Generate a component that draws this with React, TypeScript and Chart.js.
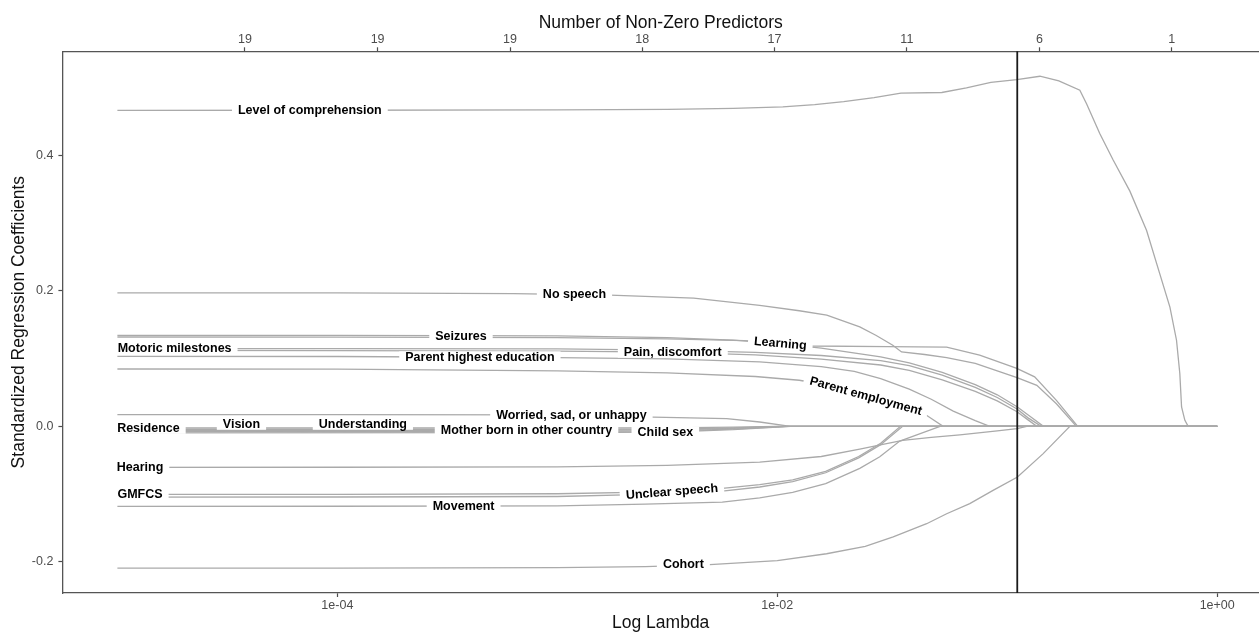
import React, { useEffect, useRef } from 'react';
import { Chart, registerables } from 'chart.js';

Chart.register(...registerables);

const FONT = '"Liberation Sans", Arial, Helvetica, sans-serif';

// axis ranges (x in log10(lambda))
const xMin = -5.25;
const xMax = 0.19;
const yMin = -0.2459;
const yMax = 0.5533;
const lambdaMinLog = -0.909;

const bottomTickLogs = [-4, -2, 0];
const bottomTickLabels = ['1e-04', '1e-02', '1e+00'];
const topTickLogs = [-4.42, -3.817, -3.215, -2.614, -2.013, -1.411, -0.808, -0.207];
const topTickCounts = ['19', '19', '19', '18', '17', '11', '6', '1'];
const yTickValues = [-0.2, 0, 0.2, 0.4];

// coefficient paths: [log10(lambda), standardized coefficient]
const levelOfComprehension = [[-5, 0.466], [-4, 0.4663], [-3, 0.4668], [-2.5, 0.4676], [-2.2, 0.469], [-1.975, 0.4712], [-1.83, 0.4745], [-1.698, 0.479], [-1.56, 0.485], [-1.438, 0.4915], [-1.252, 0.4925], [-1.14, 0.4995], [-1.029, 0.5075], [-0.911, 0.5115], [-0.806, 0.5165], [-0.72, 0.5095], [-0.6245, 0.496], [-0.594, 0.476], [-0.534, 0.432], [-0.473, 0.393], [-0.397, 0.347], [-0.321, 0.289], [-0.261, 0.225], [-0.215, 0.176], [-0.185, 0.127], [-0.17, 0.078], [-0.162, 0.0285], [-0.147, 0.0089], [-0.132, 0], [0, 0]];
const noSpeech = [[-5, 0.197], [-4, 0.1968], [-3.2, 0.1958], [-2.76, 0.1935], [-2.38, 0.189], [-2.08, 0.1786], [-1.9, 0.1705], [-1.775, 0.164], [-1.625, 0.1466], [-1.55, 0.134], [-1.475, 0.1196], [-1.435, 0.1097], [-1.33, 0.106], [-1.23, 0.1015], [-1.1, 0.093], [-0.91, 0.0718], [-0.82, 0.0605], [-0.73, 0.033], [-0.64, 0], [0, 0]];
const learning = [[-5, 0.1318], [-4, 0.1316], [-3, 0.1308], [-2.5, 0.129], [-2.15, 0.1265], [-1.84, 0.1185], [-1.5, 0.1177], [-1.23, 0.117], [-1.08, 0.105], [-0.911, 0.0856], [-0.83, 0.073], [-0.73, 0.038], [-0.634, 0], [0, 0]];
const seizures = [[-5, 0.1343], [-4, 0.1342], [-3, 0.1335], [-2.5, 0.131], [-2.2, 0.1272], [-2.0, 0.1225], [-1.8, 0.1155], [-1.53, 0.1025], [-1.4, 0.0935], [-1.25, 0.0795], [-1.1, 0.0615], [-1.0, 0.0465], [-0.91, 0.029], [-0.85, 0.0145], [-0.79, 0], [0, 0]];
const motoricMilestones = [[-5, 0.1147], [-4, 0.1146], [-3, 0.1142], [-2.5, 0.1125], [-2.1, 0.109], [-1.8, 0.1045], [-1.53, 0.097], [-1.4, 0.0895], [-1.25, 0.0755], [-1.1, 0.0575], [-1.0, 0.0425], [-0.91, 0.0255], [-0.86, 0.0125], [-0.8, 0], [0, 0]];
const painDiscomfort = [[-5, 0.112], [-4, 0.1118], [-3, 0.111], [-2.5, 0.1095], [-2.1, 0.1055], [-1.8, 0.099], [-1.53, 0.0905], [-1.4, 0.0825], [-1.25, 0.0685], [-1.1, 0.0515], [-1.0, 0.0375], [-0.91, 0.0215], [-0.86, 0.0095], [-0.82, 0], [0, 0]];
const parentHighestEducation = [[-5, 0.1033], [-4, 0.103], [-3, 0.1015], [-2.5, 0.0995], [-2.08, 0.095], [-1.8, 0.088], [-1.65, 0.081], [-1.53, 0.0705], [-1.4, 0.055], [-1.3, 0.04], [-1.2, 0.0225], [-1.1, 0.0085], [-1.034, 0], [0, 0]];
const parentEmployment = [[-5, 0.0846], [-4, 0.0843], [-3, 0.0818], [-2.5, 0.079], [-2.1, 0.0735], [-1.9, 0.068], [-1.75, 0.0595], [-1.6, 0.046], [-1.45, 0.031], [-1.32, 0.016], [-1.246, 0], [0, 0]];
const worriedSadUnhappy = [[-5, 0.0172], [-4, 0.0172], [-3, 0.0168], [-2.565, 0.0137], [-2.23, 0.0113], [-2.08, 0.0064], [-1.94, 0], [0, 0]];
const residence = [[-5, -0.0025], [-3, -0.0025], [-2.5, -0.0022], [-2.2, -0.0012], [-2.0, 0], [0, 0]];
const vision = [[-5, -0.0045], [-3, -0.0044], [-2.5, -0.004], [-2.2, -0.0022], [-1.98, 0], [0, 0]];
const understanding = [[-5, -0.0062], [-3, -0.006], [-2.5, -0.0053], [-2.2, -0.0031], [-1.96, 0], [0, 0]];
const motherBornAbroad = [[-5, -0.0078], [-3, -0.0076], [-2.5, -0.0068], [-2.2, -0.004], [-1.95, 0], [0, 0]];
const childSex = [[-5, -0.0096], [-3, -0.0094], [-2.5, -0.0084], [-2.2, -0.005], [-1.94, 0], [0, 0]];
const hearing = [[-5, -0.0605], [-4, -0.0604], [-3, -0.0598], [-2.5, -0.0575], [-2.08, -0.0527], [-1.8, -0.0445], [-1.625, -0.0335], [-1.52, -0.0265], [-1.43, -0.0207], [-1.3, -0.0162], [-1.17, -0.0125], [-1.0, -0.0068], [-0.91, -0.0035], [-0.866, 0], [0, 0]];
const gmfcs = [[-5, -0.1005], [-4, -0.1003], [-3, -0.0995], [-2.6, -0.097], [-2.25, -0.0915], [-2.08, -0.086], [-1.93, -0.079], [-1.78, -0.0665], [-1.63, -0.0445], [-1.53, -0.025], [-1.44, 0], [0, 0]];
const unclearSpeech = [[-5, -0.1045], [-4, -0.1043], [-3, -0.1035], [-2.6, -0.1005], [-2.25, -0.0955], [-2.08, -0.0895], [-1.93, -0.0815], [-1.78, -0.0685], [-1.63, -0.0465], [-1.53, -0.027], [-1.43, 0], [0, 0]];
const movement = [[-5, -0.118], [-4, -0.1179], [-3, -0.1175], [-2.6, -0.1148], [-2.25, -0.1117], [-2.08, -0.1055], [-1.93, -0.0975], [-1.78, -0.0845], [-1.625, -0.062], [-1.534, -0.045], [-1.443, -0.0217], [-1.35, -0.0108], [-1.26, 0], [0, 0]];
const cohort = [[-5, -0.2093], [-4, -0.2092], [-3, -0.2085], [-2.6, -0.207], [-2.307, -0.204], [-2.0, -0.198], [-1.776, -0.188], [-1.6, -0.177], [-1.473, -0.163], [-1.321, -0.1437], [-1.23, -0.129], [-1.125, -0.114], [-1.019, -0.0945], [-0.908, -0.0748], [-0.791, -0.0403], [-0.67, 0], [0, 0]];

const seriesNames = ['Level of comprehension', 'No speech', 'Learning', 'Seizures', 'Motoric milestones', 'Pain, discomfort', 'Parent highest education', 'Parent employment', 'Worried, sad, or unhappy', 'Residence', 'Vision', 'Understanding', 'Mother born in other country', 'Child sex', 'Hearing', 'GMFCS', 'Unclear speech', 'Movement', 'Cohort'];
const seriesPaths = [levelOfComprehension, noSpeech, learning, seizures, motoricMilestones, painDiscomfort, parentHighestEducation, parentEmployment, worriedSadUnhappy, residence, vision, understanding, motherBornAbroad, childSex, hearing, gmfcs, unclearSpeech, movement, cohort];

// label anchors (data coordinates) and text angle in degrees
const labelLogLambda = [-4.125, -2.922, -1.986, -3.438, -4.74, -2.475, -3.352, -1.597, -2.936, -4.859, -4.436, -3.884, -3.14, -2.509, -4.897, -4.897, -2.479, -3.426, -2.427];
const labelCoef = [0.4664, 0.1945, 0.1225, 0.1338, 0.1148, 0.1095, 0.1025, 0.045, 0.0162, -0.003, 0.003, 0.003, -0.006, -0.0085, -0.0605, -0.1004, -0.0962, -0.118, -0.2035];
const labelAngle = [0, 0, 5, 0, 0, 0, 0, 15.5, 0, 0, 0, 0, 0, 0, 0, 0, -4.5, 0, 0];

const labelPlugin = {
  id: 'pathLabels',
  afterDatasetsDraw(chart: any) {
    const { ctx, scales } = chart;
    const xs = scales.x;
    const ys = scales.y;
    ctx.save();
    ctx.font = `bold 12.5px ${FONT}`;
    ctx.textAlign = 'center';
    ctx.textBaseline = 'middle';
    seriesNames.forEach((name, i) => {
      const px = xs.getPixelForValue(labelLogLambda[i]);
      const py = ys.getPixelForValue(labelCoef[i]);
      const w = ctx.measureText(name).width;
      ctx.save();
      ctx.translate(px, py);
      ctx.rotate((labelAngle[i] * Math.PI) / 180);
      ctx.fillStyle = '#ffffff';
      ctx.fillRect(-w / 2 - 6, -5.5, w + 12, 11);
      ctx.fillStyle = '#000000';
      ctx.fillText(name, 0, 0.5);
      ctx.restore();
    });
    ctx.restore();
  },
};

const vlinePlugin = {
  id: 'lambdaLine',
  afterDatasetsDraw(chart: any) {
    const { ctx, chartArea, scales } = chart;
    const x = scales.x.getPixelForValue(lambdaMinLog);
    ctx.save();
    ctx.strokeStyle = '#1a1a1a';
    ctx.lineWidth = 1.8;
    ctx.beginPath();
    ctx.moveTo(x, chartArea.top);
    ctx.lineTo(x, chartArea.bottom);
    ctx.stroke();
    ctx.restore();
  },
};

const tickFont = { family: FONT, size: 12.5 };
const titleFont = { family: FONT, size: 17.5, lineHeight: 1 };
const axisGrey = '#4d4d4d';

export default function App() {
  const canvasRef = useRef<HTMLCanvasElement | null>(null);

  useEffect(() => {
    const canvas = canvasRef.current;
    if (!canvas) return;
    const datasets = seriesPaths.map((path, i) => ({
      label: seriesNames[i],
      data: path.map(([x, y]) => ({ x, y })),
      borderColor: '#aaaaaa',
      borderWidth: 1.3,
      pointRadius: 0,
      tension: 0,
      fill: false,
      xAxisID: 'x',
      yAxisID: 'y',
    }));

    const chart = new Chart(canvas, {
      type: 'line',
      data: { datasets },
      options: {
        animation: false,
        responsive: false,
        events: [],
        layout: { padding: 0 },
        plugins: { legend: { display: false }, tooltip: { enabled: false } },
        scales: {
          x: {
            type: 'linear',
            position: 'bottom',
            min: xMin,
            max: xMax,
            afterBuildTicks: (s: any) => {
              s.ticks = bottomTickLogs.map((v) => ({ value: v }));
            },
            afterFit: (s: any) => {
              s.height = 39;
            },
            ticks: {
              autoSkip: false,
              maxRotation: 0,
              padding: 1,
              color: axisGrey,
              font: tickFont,
              callback: (_v: any, i: number) => bottomTickLabels[i],
            },
            grid: { drawOnChartArea: false, drawTicks: true, tickLength: 4, color: axisGrey, tickColor: axisGrey, tickWidth: 1.2 },
            border: { display: true, color: '#555555', width: 1.3 },
            title: { display: true, text: 'Log Lambda', color: '#111111', font: titleFont, padding: { top: 0, bottom: 0 } },
          },
          x2: {
            type: 'linear',
            position: 'top',
            min: xMin,
            max: xMax,
            afterBuildTicks: (s: any) => {
              s.ticks = topTickLogs.map((v) => ({ value: v }));
            },
            afterFit: (s: any) => {
              s.height = 51.3;
            },
            ticks: {
              autoSkip: false,
              maxRotation: 0,
              padding: 0,
              color: axisGrey,
              font: tickFont,
              callback: (_v: any, i: number) => topTickCounts[i],
            },
            grid: { drawOnChartArea: false, drawTicks: true, tickLength: 4, color: axisGrey, tickColor: axisGrey, tickWidth: 1.2 },
            border: { display: true, color: '#555555', width: 1.3 },
            title: { display: true, text: 'Number of Non-Zero Predictors', color: '#111111', font: titleFont, padding: { top: 14, bottom: 0 } },
          },
          y: {
            type: 'linear',
            position: 'left',
            min: yMin,
            max: yMax,
            afterBuildTicks: (s: any) => {
              s.ticks = yTickValues.map((v) => ({ value: v }));
            },
            afterFit: (s: any) => {
              s.width = 62.4;
            },
            ticks: {
              autoSkip: false,
              padding: 5,
              color: axisGrey,
              font: tickFont,
              callback: (v: any) => Number(v).toFixed(1),
            },
            grid: { drawOnChartArea: false, drawTicks: true, tickLength: 4, color: axisGrey, tickColor: axisGrey, tickWidth: 1.2 },
            border: { display: true, color: '#555555', width: 1.3 },
            title: { display: true, text: 'Standardized Regression Coefficients', color: '#111111', font: titleFont, padding: { top: 10.75, bottom: 0 } },
          },
        },
      },
      plugins: [labelPlugin, vlinePlugin],
    } as any);

    return () => {
      chart.destroy();
    };
  }, []);

  return (
    <div style={{ position: 'fixed', left: 0, top: 0, width: 1259, height: 632, background: '#ffffff' }}>
      <canvas ref={canvasRef} width={1259} height={632} style={{ display: 'block', width: 1259, height: 632 }} />
    </div>
  );
}
